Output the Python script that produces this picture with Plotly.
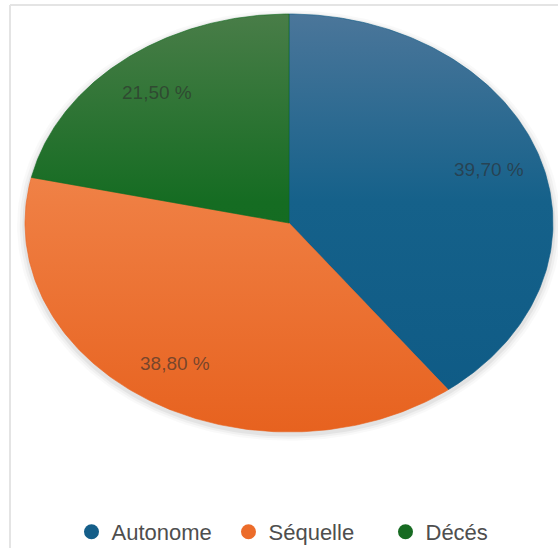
import numpy as np
import plotly.graph_objects as go

# Outcome shares (percent)
categories = ["Autonome", "Séquelle", "Décés"]
values = [39.70, 38.80, 21.50]

# Slice colours: bottom, middle, top of the vertical shading
colors = ["#145e89", "#ec6c2a", "#176b22"]
shades = [
    ["#0e5a85", "#15618a", "#4b769a"],
    ["#e7621f", "#ef7e42", "#f49a66"],
    ["#0f691f", "#156c22", "#497d48"],
]

W, H = 558, 548
# pixel placement of the pie (unit circle stretched by the axes)
CX, CY, RX, RY = 289, 223, 264, 209

x_range = [-CX / RX, (W - CX) / RX]
y_range = [-(H - CY) / RY, CY / RY]

fig = go.Figure()

# soft drop shadow under the pie
t = np.linspace(0, 2 * np.pi, 241)
for k, a in [(1.03, 0.025), (1.02, 0.035), (1.01, 0.05)]:
    fig.add_trace(go.Scatter(
        x=k * np.sin(t), y=k * np.cos(t) - 0.012,
        mode="lines", fill="toself", line=dict(width=0),
        fillcolor=f"rgba(0,0,0,{a})", hoverinfo="skip", showlegend=False,
    ))

total = sum(values)
start = 0.0
for cat, v, sh in zip(categories, values, shades):
    a0 = 2 * np.pi * start / total
    a1 = 2 * np.pi * (start + v) / total
    th = np.linspace(a0, a1, 160)
    xs = np.concatenate([[0], np.sin(th), [0]])
    ys = np.concatenate([[0], np.cos(th), [0]])
    fig.add_trace(go.Scatter(
        x=xs, y=ys, mode="lines", fill="toself",
        line=dict(width=0.6, color=sh[0]),
        fillcolor=sh[1],
        fillgradient=dict(type="vertical", start=-1, stop=1,
                          colorscale=[[0, sh[0]], [0.55, sh[1]], [1, sh[2]]]),
        name=cat, showlegend=False, hoverinfo="skip",
    ))
    mid = (a0 + a1) / 2
    fig.add_annotation(
        x=0.8 * np.sin(mid), y=0.8 * np.cos(mid),
        text=f"{v:.2f} %".replace(".", ","), showarrow=False,
        font=dict(family="Liberation Sans, Arial, sans-serif", size=19,
                  color="rgba(45,45,45,0.62)"),
    )
    start += v

# legend entries
for cat, c in zip(categories, colors):
    fig.add_trace(go.Scatter(
        x=[None], y=[None], mode="markers", name=cat,
        marker=dict(size=15, color=c, symbol="circle"),
    ))

fig.update_layout(
    width=W, height=H,
    margin=dict(l=0, r=0, t=0, b=0, autoexpand=False),
    paper_bgcolor="white", plot_bgcolor="white",
    xaxis=dict(range=x_range, visible=False, fixedrange=True),
    yaxis=dict(range=y_range, visible=False, fixedrange=True),
    showlegend=True,
    legend=dict(
        orientation="h", xref="container", yref="container",
        x=(W / 2 + 28) / W, xanchor="center", y=16 / H, yanchor="middle",
        entrywidth=112, entrywidthmode="pixels",
        font=dict(family="Liberation Sans, Arial, sans-serif", size=22,
                  color="#4e4e4e"),
        bgcolor="rgba(0,0,0,0)", itemclick=False, itemdoubleclick=False,
    ),
    shapes=[
        dict(type="line", xref="paper", yref="paper",
             x0=10 / W, x1=1, y0=1 - 5 / H, y1=1 - 5 / H,
             line=dict(color="#e4e4e4", width=2)),
        dict(type="line", xref="paper", yref="paper",
             x0=10 / W, x1=10 / W, y0=0, y1=1 - 5 / H,
             line=dict(color="#e4e4e4", width=2)),
    ],
)

fig.write_html("out.html")
